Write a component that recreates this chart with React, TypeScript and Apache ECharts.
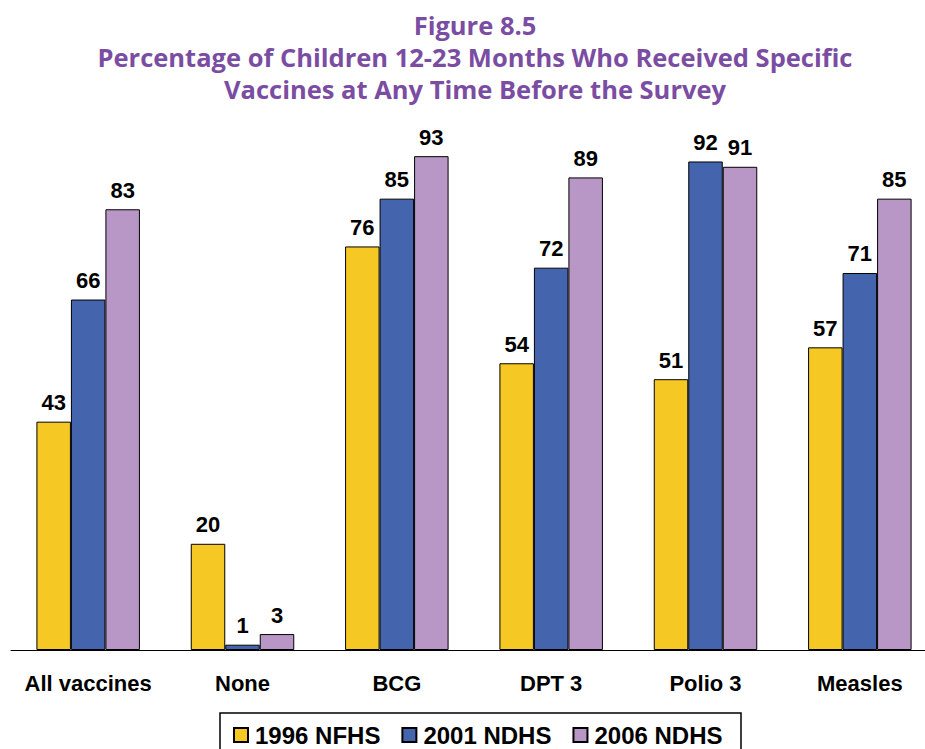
import React, { useEffect, useRef } from "react";
import * as echarts from "echarts";

const categories = ["All vaccines", "None", "BCG", "DPT 3", "Polio 3", "Measles"];
const seriesNames = ["1996 NFHS", "2001 NDHS", "2006 NDHS"];
const nfhs1996 = [43, 20, 76, 54, 51, 57];
const ndhs2001 = [66, 1, 85, 72, 92, 71];
const ndhs2006 = [83, 3, 93, 89, 91, 85];
const colors = ["#F5C823", "#4464AE", "#B897C7"];

const titleLines = [
  "Figure 8.5",
  "Percentage of Children 12-23 Months Who Received Specific",
  "Vaccines at Any Time Before the Survey",
];
const titleY = [25, 57, 89];

export default function App() {
  const ref = useRef<HTMLDivElement>(null);
  useEffect(() => {
    if (!ref.current) return;
    const chart = echarts.init(ref.current, undefined, { renderer: "svg" });
    const data = [nfhs1996, ndhs2001, ndhs2006];
    chart.setOption({
      animation: false,
      backgroundColor: "#ffffff",
      grid: { left: 11, right: 4, top: 119, bottom: 99, containLabel: false },
      xAxis: {
        type: "category",
        data: categories,
        axisLine: { show: true, lineStyle: { color: "#000", width: 1 } },
        axisTick: { show: false },
        axisLabel: {
          interval: 0,
          margin: 22,
          color: "#000",
          fontFamily: "Liberation Sans",
          fontWeight: "bold",
          fontSize: 22,
        },
      },
      yAxis: {
        type: "value",
        min: 0,
        max: 100,
        show: false,
        splitLine: { show: false },
      },
      legend: {
        data: seriesNames,
        left: 228,
        top: 718,
        itemWidth: 14,
        itemHeight: 14,
        itemGap: 21,
        textStyle: {
          fontFamily: "Liberation Sans",
          fontWeight: "bold",
          fontSize: 24,
          color: "#000",
          padding: [0, 0, 0, 2],
        },
        icon: "rect",
      },
      graphic: [
        {
          type: "rect",
          shape: { x: 220, y: 713, width: 521, height: 60 },
          style: { fill: "none", stroke: "#000", lineWidth: 1.5 },
          silent: true,
        },
        ...titleLines.map((t, i) => ({
          type: "text",
          x: 475,
          y: titleY[i],
          silent: true,
          style: {
            text: t,
            textAlign: "center",
            textVerticalAlign: "middle",
            fontFamily: "Open Sans",
            fontWeight: "bold",
            fontSize: 25.5,
            fill: "#7B4DA2",
          },
        })),
      ],
      series: seriesNames.map((name, i) => ({
        name,
        type: "bar",
        data: data[i],
        barWidth: 34.5,
        barGap: "0%",
        itemStyle: { color: colors[i], borderColor: "#000", borderWidth: 1 },
        label: {
          show: true,
          position: "top",
          distance: 8,
          color: "#000",
          fontFamily: "Liberation Sans",
          fontWeight: "bold",
          fontSize: 22,
        },
      })),
    });
    return () => chart.dispose();
  }, []);
  return (
    <div style={{ position: "fixed", left: 0, top: 0, width: 925, height: 749, overflow: "hidden" }}>
      <div ref={ref} style={{ width: 941, height: 749 }} />
    </div>
  );
}
